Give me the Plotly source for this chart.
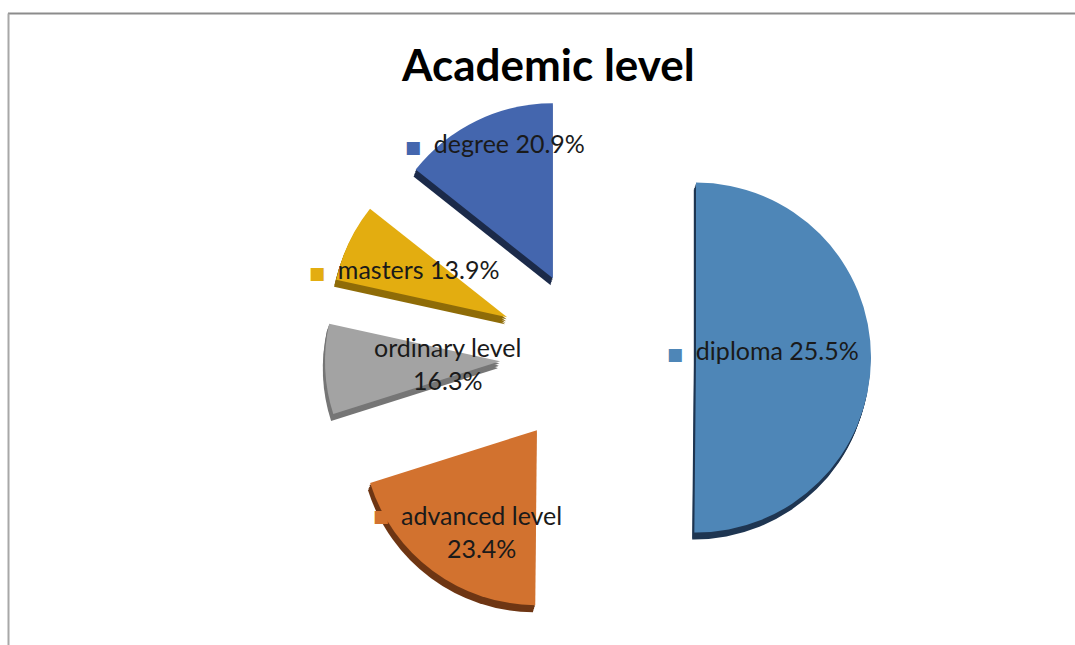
import math
import plotly.graph_objects as go

categories = ["diploma", "advanced level", "ordinary level", "masters", "degree"]
label_text = ["diploma 25.5%", "advanced level<br>23.4%", "ordinary level<br>16.3%",
              "masters 13.9%", "degree 20.9%"]
values = [50.0, 19.9, 8.3, 7.2, 14.3]

# ---- style ----
face_colors = ["#4E86B7", "#D2722F", "#A3A3A3", "#E3AD10", "#4466AE"]
side_colors = ["#1F3652", "#6E3614", "#767676", "#8F6C08", "#1C2B4A"]
pulls = [0.6, 0.52, 0.52, 0.53, 0.5]
label_radial = [0.386, 0.659, 0.30, 0.65, 0.839]
label_turn = [-2.6, -4.3, 0.0, 0.0, 1.75]   # degrees off the slice bisector
marker_shift = [0, -100, -95, 0, 0]          # for two-line labels: key square offset

W, H = 1075, 645
CX, CY = 591, 357          # pie centre in pixels
R = 175                    # pie radius in pixels
maxpull = max(pulls)
half = R * (1 + maxpull)   # half size of the pie box


def domain(dx=0.0, dy=0.0):
    cx, cy = CX + dx, CY + dy
    return dict(x=[(cx - half - 20) / W, (cx + half + 20) / W],
                y=[1 - (cy + half) / H, 1 - (cy - half) / H])


fig = go.Figure()

# extruded side (3D depth), drawn as several offset copies beneath
depth_steps = [(-0.6, 2.0), (-1.2, 4.0), (-1.8, 5.5), (-2.2, 7.0)]
for dx, dy in reversed(depth_steps):
    fig.add_trace(go.Pie(
        labels=categories, values=values, sort=False, direction="clockwise",
        rotation=0, pull=pulls, domain=domain(dx, dy),
        marker=dict(colors=side_colors, line=dict(width=0)),
        textinfo="none", hoverinfo="skip", showlegend=False))

# top face
fig.add_trace(go.Pie(
    labels=categories, values=values, sort=False, direction="clockwise",
    rotation=0, pull=pulls, domain=domain(),
    marker=dict(colors=face_colors, line=dict(width=0)),
    textinfo="none", hoverinfo="label+value", showlegend=False))

# data labels, placed near each slice's bisector
total = sum(values)
start = 0.0
annotations = []
FS = 25
font_lab = dict(family="Lato, 'DejaVu Sans', sans-serif", size=FS, color="#1a1a1a")
for cat, txt, v, p, f, t, col, ms in zip(categories, label_text, values, pulls,
                                           label_radial, label_turn, face_colors,
                                           marker_shift):
    span = v / total * 360.0
    bis = math.radians(start + span / 2 + t)
    start += span
    d = (p + f) * R
    xp = CX + d * math.sin(bis)
    yp = CY - d * math.cos(bis)
    common = dict(x=xp / W, y=1 - yp / H, xref="paper", yref="paper",
                  showarrow=False, xanchor="center", yanchor="middle")
    if "<br>" in txt:
        annotations.append(dict(text=txt, align="center", font=font_lab, **common))
        annotations.append(dict(text="■", xshift=ms, yshift=16,
                                font=dict(family="DejaVu Sans", size=17, color=col),
                                **common))
    else:
        annotations.append(dict(
            text=f"<span style='color:{col};font-size:17px'>■</span>&nbsp;&nbsp;{txt}",
            align="center", font=font_lab, **common))

# chart title
annotations.append(dict(x=548 / W, y=1 - 64 / H, xref="paper", yref="paper",
                        xanchor="center", yanchor="middle",
                        text="<b>Academic level</b>", showarrow=False,
                        font=dict(family="Lato, sans-serif", size=44, color="#000000")))

fig.update_layout(
    width=W, height=H,
    margin=dict(l=0, r=0, t=0, b=0),
    paper_bgcolor="white", plot_bgcolor="white",
    showlegend=False,
    annotations=annotations,
    shapes=[
        dict(type="line", xref="paper", yref="paper", x0=8 / W, x1=1.05,
             y0=1 - 13.5 / H, y1=1 - 13.5 / H, line=dict(color="#8c8c8c", width=2)),
        dict(type="line", xref="paper", yref="paper", x0=8.5 / W, x1=8.5 / W,
             y0=1 - 13.5 / H, y1=-0.05, line=dict(color="#a8a8a8", width=2)),
    ],
)

fig.write_html("out.html")
